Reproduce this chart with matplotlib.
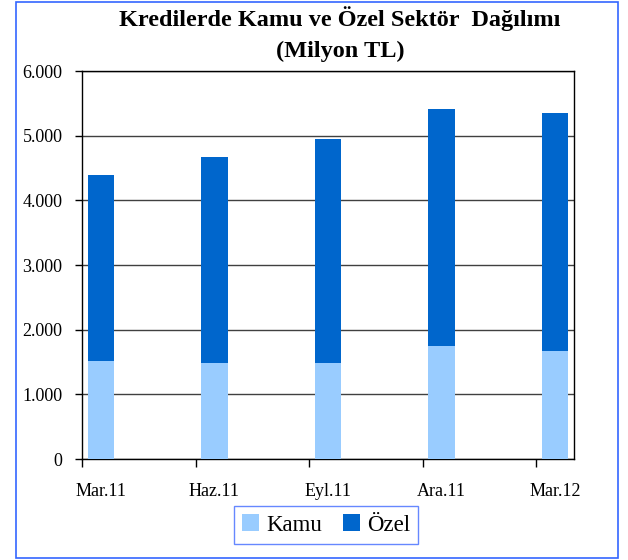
import matplotlib
matplotlib.use("Agg")
import matplotlib.pyplot as plt
import numpy as np
from matplotlib.patches import Rectangle, Patch
from matplotlib.ticker import FuncFormatter

categories = ["Mar.11", "Haz.11", "Eyl.11", "Ara.11", "Mar.12"]
kamu = [1512, 1481, 1481, 1744, 1667]
ozel = [2879, 3189, 3467, 3669, 3684]
yticks = [0, 1000, 2000, 3000, 4000, 5000, 6000]

plt.rcParams['font.family'] = ['Liberation Serif', 'DejaVu Serif']

W, H = 628, 560
fig = plt.figure(figsize=(W / 100, H / 100), dpi=100)
ax = fig.add_axes([82 / W, 1 - 459 / H, 492 / W, 388 / H])

# months on a monthly date-style axis: one slot per month, quarterly points
x = np.arange(len(categories)) * 3
kamu_c = "#99CCFF"
ozel_c = "#0066CC"
bw = 0.69
ax.bar(x, kamu, width=bw, color=kamu_c, zorder=3, label="Kamu")
ax.bar(x, ozel, width=bw, bottom=kamu, color=ozel_c, zorder=3, label="Özel")

ax.set_xlim(-0.5, x[-1] + 0.5)
ax.set_ylim(0, 6000)
ax.set_yticks(yticks)
ax.yaxis.set_major_formatter(FuncFormatter(lambda v, p: f"{int(v):,}".replace(",", ".")))
ax.yaxis.grid(True, color="#404040", linewidth=1.0, zorder=1)
ax.set_axisbelow(True)

ax.set_xticks(x)
ax.set_xticklabels(categories)
ax.set_xticks(x - 0.5, minor=True)
ax.tick_params(axis="x", which="major", length=0, pad=17, labelsize=13)
ax.tick_params(axis="x", which="minor", length=6, width=1, direction="out")
ax.tick_params(axis="y", length=5, width=1, direction="out", pad=9, labelsize=13)

for s in ax.spines.values():
    s.set_color("black")
    s.set_linewidth(1.0)

fig.text(340 / W, 1 - 19 / H, "Kredilerde Kamu ve Özel Sektör  Dağılımı",
         ha="center", va="center", fontsize=17.5, fontweight="bold")
fig.text(340 / W, 1 - 51 / H, "(Milyon TL)",
         ha="center", va="center", fontsize=17.5, fontweight="bold")

handles = [Patch(facecolor=kamu_c, edgecolor="none"), Patch(facecolor=ozel_c, edgecolor="none")]
leg = fig.legend(handles, ["Kamu", "Özel"], loc="center", bbox_to_anchor=(326 / W, 1 - 525 / H),
                 ncol=2, fontsize=16.5, frameon=True, fancybox=False, handlelength=0.75,
                 handleheight=0.75, handletextpad=0.3, columnspacing=0.9, borderpad=0.35,
                 edgecolor="#6688FF", framealpha=1)
leg.get_frame().set_linewidth(1.0)

fig.patches.append(Rectangle((15.5 / W, 1 - 558 / H), (618 - 15.5) / W, (558 - 1.5) / H,
                             transform=fig.transFigure, fill=False, edgecolor="#3366FF",
                             linewidth=1.2))

fig.savefig("out.png", dpi=100)
